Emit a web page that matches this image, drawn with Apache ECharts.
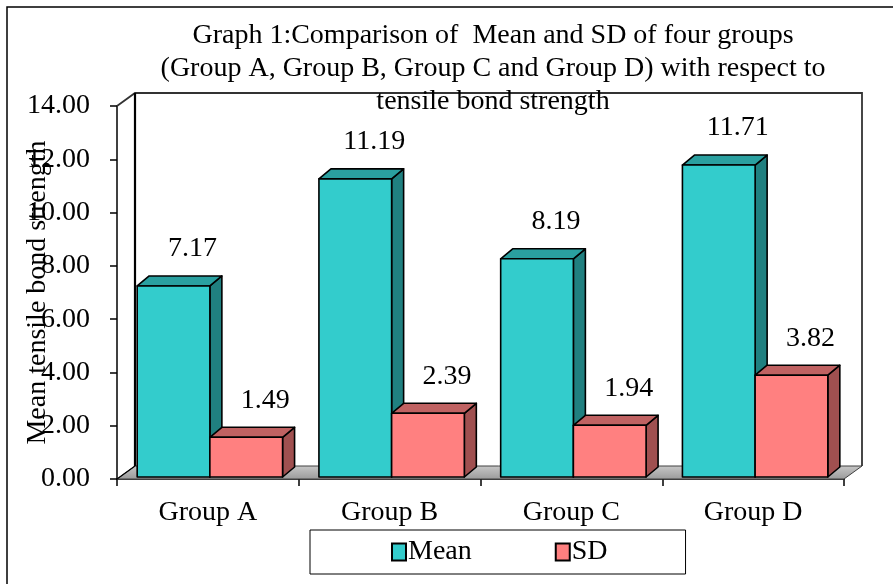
<!DOCTYPE html>
<html>
<head>
<meta charset="utf-8">
<script src="https://cdn.jsdelivr.net/npm/echarts@6/dist/echarts.min.js"></script>
<style>
html,body{margin:0;padding:0;background:#fff;}
#chart{width:893px;height:584px;}
</style>
</head>
<body>
<div id="chart"></div>
<script>
const categories = ['Group A', 'Group B', 'Group C', 'Group D'];
const meanValues = [7.17, 11.19, 8.19, 11.71];
const sdValues = [1.49, 2.39, 1.94, 3.82];
const seriesNames = ['Mean', 'SD'];
const yMin = 0, yMax = 14, yInterval = 2;

const FONT = 'Liberation Serif, Times New Roman, serif';
const DEPTH = [12, -10];
const WALL = [18, -13];
const faceColors = [
  { front: '#33CCCC', top: '#2AA0A0', side: '#208080' },
  { front: '#FF8080', top: '#C06262', side: '#A05050' }
];

function barRenderer(sIdx) {
  return function (params, api) {
    const ci = api.value(0);
    const v = api.value(1);
    const base = api.coord([ci, 0]);
    const top = api.coord([ci, v]);
    const band = api.size([1, 0])[0];
    const bw = band * 0.4;
    const cx = base[0] + 2;
    const x0 = cx - bw + sIdx * bw;
    const yb = base[1] - 2;
    const yt = top[1] - 2;
    const dx = DEPTH[0], dy = DEPTH[1];
    const c = faceColors[sIdx];
    const stroke = { stroke: '#000', lineWidth: 1.6, lineJoin: 'round' };
    return {
      type: 'group',
      children: [
        { type: 'polygon', shape: { points: [[x0 + bw, yt], [x0 + bw + dx, yt + dy], [x0 + bw + dx, yb + dy], [x0 + bw, yb]] },
          style: Object.assign({ fill: c.side }, stroke) },
        { type: 'polygon', shape: { points: [[x0, yt], [x0 + dx, yt + dy], [x0 + bw + dx, yt + dy], [x0 + bw, yt]] },
          style: Object.assign({ fill: c.top }, stroke) },
        { type: 'rect', shape: { x: x0, y: yt, width: bw, height: yb - yt },
          style: Object.assign({ fill: c.front }, stroke) },
        { type: 'text', x: x0 + bw / 2 + 19, y: top[1] - 39,
          style: { text: v.toFixed(2), fill: '#000', font: '28px ' + FONT, align: 'center', verticalAlign: 'middle' } }
      ]
    };
  };
}

function wallRenderer(params, api) {
  const cs = params.coordSys;
  const L = cs.x, R = cs.x + cs.width, T = cs.y, B = cs.y + cs.height;
  const wx = WALL[0], wy = WALL[1];
  return {
    type: 'group',
    children: [
      { type: 'polygon', shape: { points: [[L, B], [R, B], [R + wx, B + wy], [L + wx, B + wy]] },
        style: { fill: { type: 'linear', x: 0, y: 0, x2: 0, y2: 1, colorStops: [{ offset: 0, color: '#c8c8c8' }, { offset: 1, color: '#9a9a9a' }] },
          stroke: '#404040', lineWidth: 1 } },
      { type: 'polyline', shape: { points: [[L, T], [L + wx, T + wy], [R + wx, T + wy], [R + wx, B + wy]] },
        style: { fill: null, stroke: '#333', lineWidth: 1.8 } },
      { type: 'line', shape: { x1: L + wx, y1: T + wy, x2: L + wx, y2: B + wy },
        style: { stroke: '#000', lineWidth: 2.2 } },
      { type: 'line', shape: { x1: L, y1: B, x2: L + wx, y2: B + wy },
        style: { stroke: '#000', lineWidth: 1.2 } }
    ]
  };
}

const chart = echarts.init(document.getElementById('chart'));
chart.setOption({
  animation: false,
  backgroundColor: '#fff',
  graphic: [
    { type: 'rect', z: -10, shape: { x: 7, y: 7, width: 900, height: 600 },
      style: { fill: 'none', stroke: '#000', lineWidth: 1.5 } }
  ],
  title: {
    text: 'Graph 1:Comparison of  Mean and SD of four groups\n(Group A, Group B, Group C and Group D) with respect to\ntensile bond strength',
    left: 488, top: 14, textAlign: 'center',
    textStyle: { fontFamily: FONT, fontSize: 28, fontWeight: 'normal', color: '#000', lineHeight: 33 }
  },
  legend: {
    data: seriesNames,
    left: 310, top: 530,
    padding: [8, 78, 8, 81],
    itemGap: 83,
    itemWidth: 14, itemHeight: 17,
    icon: 'rect',
    borderColor: '#000', borderWidth: 1,
    itemStyle: { borderColor: '#000', borderWidth: 2 },
    textStyle: { fontFamily: FONT, fontSize: 28, color: '#000', padding: [0, 0, 0, -3] }
  },
  grid: { left: 117, right: 49, top: 106, bottom: 105, containLabel: false, outerBoundsMode: 'none' },
  xAxis: {
    type: 'category',
    data: categories,
    axisLine: { lineStyle: { color: '#000', width: 1.5 } },
    axisTick: { show: true, length: 7, lineStyle: { color: '#000', width: 1.5 } },
    axisLabel: { fontFamily: FONT, fontSize: 28, color: '#000', margin: 20 }
  },
  yAxis: {
    type: 'value',
    min: yMin, max: yMax, interval: yInterval,
    name: 'Mean tensile bond strength',
    nameLocation: 'middle',
    nameGap: 65,
    nameMoveOverlap: false,
    nameRotate: 90,
    nameTextStyle: { fontFamily: FONT, fontSize: 28, color: '#000' },
    axisLine: { show: true, lineStyle: { color: '#000', width: 1.5 } },
    axisTick: { show: true, length: 7, lineStyle: { color: '#000', width: 1.5 } },
    splitLine: { show: false },
    axisLabel: { fontFamily: FONT, fontSize: 28, color: '#000', margin: 27, formatter: v => v.toFixed(2) }
  },
  series: [
    { type: 'custom', name: 'walls', z: 1, silent: true, renderItem: wallRenderer, data: [[0, 0]], encode: { x: 0, y: 1 } },
    { type: 'custom', name: seriesNames[0], z: 2, renderItem: barRenderer(0),
      itemStyle: { color: faceColors[0].front },
      data: meanValues.map((v, i) => [i, v]), encode: { x: 0, y: 1 } },
    { type: 'custom', name: seriesNames[1], z: 2, renderItem: barRenderer(1),
      itemStyle: { color: faceColors[1].front },
      data: sdValues.map((v, i) => [i, v]), encode: { x: 0, y: 1 } }
  ]
});
</script>
</body>
</html>
